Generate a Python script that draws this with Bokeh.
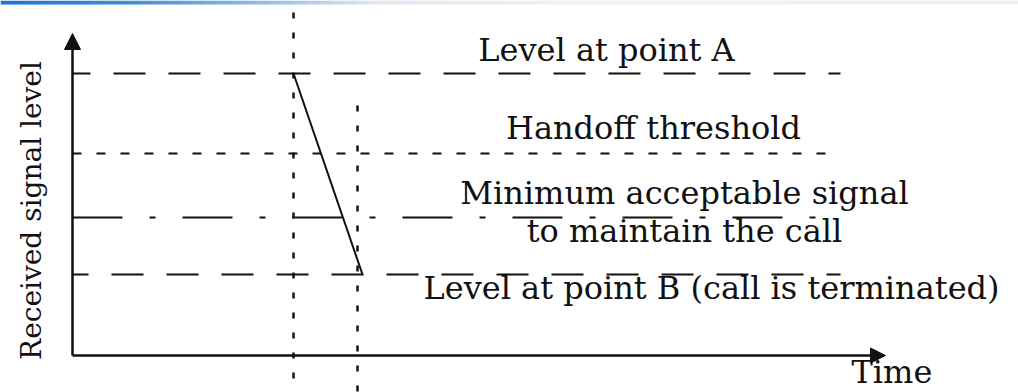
import numpy as np
from bokeh.plotting import figure
from bokeh.models import Range1d, Arrow, NormalHead
from bokeh.core.properties import value
from bokeh.embed import file_html
from bokeh.resources import INLINE

# Signal levels (arbitrary units above the time axis)
level_labels = ["Level at point A", "Handoff threshold",
                "Minimum acceptable signal", "Level at point B"]
level_values = [282, 202, 138, 81]

# Time instants (arbitrary units from the origin)
t_handoff = 221          # handoff starts
t_drop_end = 290         # signal reaches level B
t_terminated = 285       # call terminated
t_line_end = 768         # extent of the reference levels
t_axis_end = 813         # tip of the time axis
level_axis_end = 322     # tip of the level axis

FONT = value("DejaVu Serif")
INK = "#111111"

p = figure(width=1018, height=392, output_backend="svg", toolbar_location=None,
           x_range=Range1d(-72, 946), y_range=Range1d(-37, 355),
           min_border=0, min_border_left=0, min_border_right=0,
           min_border_top=0, min_border_bottom=0)
p.axis.visible = False
p.grid.visible = False
p.outline_line_color = None
p.background_fill_color = "white"
p.border_fill_color = "white"

# thin coloured strip along the top edge, blue fading to pale grey
stops_x = [0.0, 0.12, 0.25, 0.37, 0.55, 1.0]
stops_rgb = np.array([[27, 116, 207], [60, 140, 215], [140, 185, 232],
                      [225, 230, 240], [240, 240, 244], [236, 239, 248]])
n = 80
pos = (np.arange(n) + 0.5) / n
rgb = np.stack([np.interp(pos, stops_x, stops_rgb[:, k]) for k in range(3)], axis=1)
strip_cols = ["#%02x%02x%02x" % tuple(int(round(c)) for c in row) for row in rgb]
w = 1018 / n
p.quad(left=[-72 + i * w for i in range(n)], right=[-72 + (i + 1) * w + 0.5 for i in range(n)],
       bottom=351, top=355, fill_color=strip_cols, line_color=None)

# reference levels
dash_styles = ["32 23", "9 15", "50 27 6 27", "32 23"]
dash_offsets = [14, 0, 0, 16]
for lv, dash, off in zip(level_values, dash_styles, dash_offsets):
    p.line([0, t_line_end], [lv, lv], line_color=INK, line_width=2,
           line_dash=dash, line_dash_offset=off)

# vertical time markers
p.line([t_handoff, t_handoff], [343, -37], line_color=INK, line_width=2.5,
       line_dash="6 14")
p.line([t_terminated, t_terminated], [250, -37], line_color=INK, line_width=2.5,
       line_dash="6 14")

# received signal falling from A to B
p.line([t_handoff, t_drop_end], [level_values[0], level_values[3]],
       line_color=INK, line_width=2)

# axes with arrow heads
p.add_layout(Arrow(end=NormalHead(size=16, fill_color=INK, line_color=INK),
                   x_start=0, y_start=0, x_end=0, y_end=level_axis_end,
                   line_color=INK, line_width=2.5))
p.add_layout(Arrow(end=NormalHead(size=15, fill_color=INK, line_color=INK),
                   x_start=0, y_start=0, x_end=t_axis_end, y_end=0,
                   line_color=INK, line_width=2.5))

# annotations
txt = dict(text_font=FONT, text_font_size="32px", text_color=INK,
           text_baseline="alphabetic")
p.text(x=[534], y=[306], text=["Level at point A"], text_align="center", **txt)
p.text(x=[581], y=[228], text=["Handoff threshold"], text_align="center", **txt)
p.text(x=[612], y=[163], text=["Minimum acceptable signal"], text_align="center", **txt)
p.text(x=[612], y=[125], text=["to maintain the call"], text_align="center", **txt)
p.text(x=[639], y=[68], text=["Level at point B (call is terminated)"],
       text_align="center", **txt)
p.text(x=[779], y=[-16], text=["Time"], text_align="left", **txt)
p.text(x=[-41], y=[145], text=["Received signal level"], text_align="center",
       angle=1.5707963, text_font=FONT, text_font_size="28px", text_color=INK,
       text_baseline="alphabetic")

open("out.html", "w").write(file_html(p, INLINE))
